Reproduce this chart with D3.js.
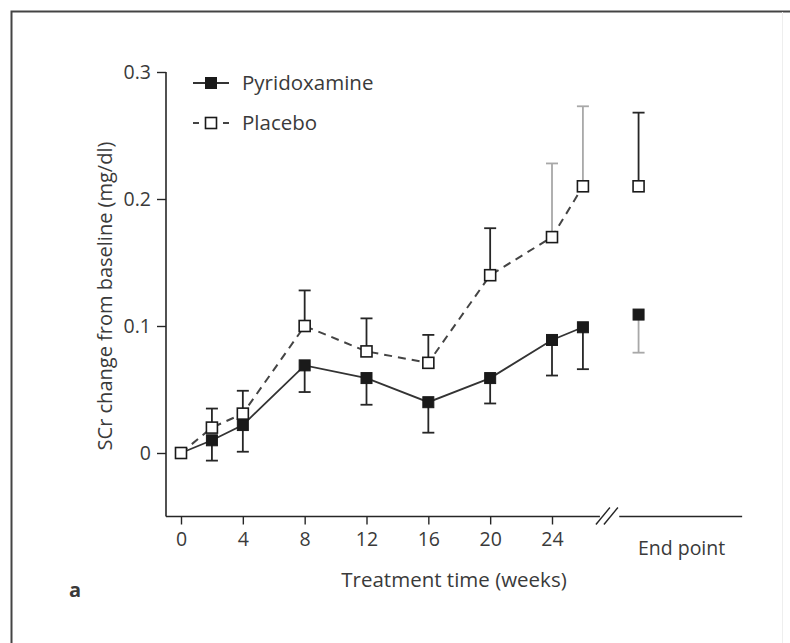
<!DOCTYPE html>
<html><head><meta charset="utf-8">
<script src="https://cdn.jsdelivr.net/npm/d3@7"></script>
<style>
body{margin:0;background:#fff;}
svg{display:block;}
text{font-family:"Open Sans","Noto Sans",sans-serif;fill:#3a3a3a;}
</style></head>
<body><div id="chart"></div>
<script>
// ---- data ----
const weeks = [0, 2, 4, 8, 12, 16, 20, 24, 26];
const xTicks = [0, 4, 8, 12, 16, 20, 24];
const yTicks = [0, 0.1, 0.2, 0.3];
const yTickLabels = ["0", "0.1", "0.2", "0.3"];
const pyridoxamine = [0, 0.01, 0.022, 0.069, 0.059, 0.04, 0.059, 0.089, 0.099];
const pyridoxamineLower = [null, -0.006, 0.001, 0.048, 0.038, 0.016, 0.039, 0.061, 0.066];
const placebo = [0, 0.02, 0.031, 0.1, 0.08, 0.071, 0.14, 0.17, 0.21];
const placeboUpper = [null, 0.035, 0.049, 0.128, 0.106, 0.093, 0.177, 0.228, 0.273];
const endPyridoxamine = 0.109, endPyridoxamineLower = 0.079;
const endPlacebo = 0.21, endPlaceboUpper = 0.268;
const seriesNames = ["Pyridoxamine", "Placebo"];
const endLabel = "End point";
const xTitle = "Treatment time (weeks)";
const yTitle = "SCr change from baseline (mg/dl)";
const panelLabel = "a";

// ---- layout ----
const W = 790, H = 643;
const endPos = 29.6; // position of end-point column, in week units
const x = d3.scaleLinear().domain([0, 24]).range([181, 552]);
const y = d3.scaleLinear().domain([-0.05, 0.3]).range([516.5, 72]);
const axisX = 166, axisY = y(-0.05);
const ink = "#262626";
const tickFont = 19.5;

const svg = d3.select("#chart").append("svg").attr("width", W).attr("height", H);

// frame
svg.append("path").attr("d", `M11.5,${H} L11.5,11.5 L${W},11.5`)
  .attr("fill", "none").attr("stroke", "#444").attr("stroke-width", 2);
svg.append("line").attr("x1", 782.5).attr("x2", 782.5).attr("y1", 12).attr("y2", H)
  .attr("stroke", "#eee").attr("stroke-width", 1);

// y axis
const yAxis = d3.axisLeft(y).tickValues(yTicks).tickSize(9).tickPadding(6)
  .tickFormat((d, i) => yTickLabels[i]);
const gy = svg.append("g").attr("transform", `translate(${axisX},0)`).call(yAxis);
gy.select(".domain").attr("d", `M0,${y(0.3)}V${axisY}`).attr("stroke", ink).attr("stroke-width", 1.6);
gy.selectAll(".tick line").attr("stroke", ink).attr("stroke-width", 1.4);
gy.selectAll(".tick text").attr("font-size", tickFont).attr("fill", "#3a3a3a").style("font-family", '"Open Sans",sans-serif');

// x axis
const xAxis = d3.axisBottom(x).tickValues(xTicks).tickSize(8).tickPadding(8);
const gx = svg.append("g").attr("transform", `translate(0,${axisY})`).call(xAxis);
gx.select(".domain").remove();
gx.selectAll(".tick line").attr("stroke", ink).attr("stroke-width", 1.4);
gx.selectAll(".tick text").attr("font-size", tickFont).attr("fill", "#3a3a3a").style("font-family", '"Open Sans",sans-serif');
const breakL = x(27.1), breakR = x(28.35);
svg.append("line").attr("x1", axisX).attr("x2", breakL).attr("y1", axisY).attr("y2", axisY)
  .attr("stroke", ink).attr("stroke-width", 1.6);
svg.append("line").attr("x1", breakR).attr("x2", x(36.3)).attr("y1", axisY).attr("y2", axisY)
  .attr("stroke", ink).attr("stroke-width", 1.6);
[0, 8].forEach(o => {
  svg.append("line").attr("x1", breakL - 4 + o).attr("y1", axisY + 8)
    .attr("x2", breakL + 10 + o).attr("y2", axisY - 9)
    .attr("stroke", ink).attr("stroke-width", 1.4);
});
svg.append("text").attr("x", x(endPos) + 43).attr("y", axisY + 38)
  .attr("text-anchor", "middle").attr("font-size", tickFont).text(endLabel);

// titles
svg.append("text").attr("x", 454).attr("y", 587).attr("text-anchor", "middle")
  .attr("font-size", 20.5).text(xTitle);
svg.append("text").attr("transform", `translate(112,296) rotate(-90)`)
  .attr("text-anchor", "middle").attr("font-size", 20).text(yTitle);
svg.append("text").attr("x", 69).attr("y", 597).attr("font-size", 20)
  .attr("font-weight", "bold").attr("fill", "#222").text(panelLabel);

// error bars
const cap = 6;
function errBar(px, v0, v1, color) {
  const g = svg.append("g").attr("stroke", color).attr("stroke-width", 1.8);
  g.append("line").attr("x1", px).attr("x2", px).attr("y1", y(v0)).attr("y2", y(v1));
  g.append("line").attr("x1", px - cap).attr("x2", px + cap).attr("y1", y(v1)).attr("y2", y(v1));
}
const grayBarsPlacebo = [24, 26];
weeks.forEach((w, i) => {
  if (placeboUpper[i] != null)
    errBar(x(w), placebo[i], placeboUpper[i], grayBarsPlacebo.includes(w) ? "#a8a8a8" : ink);
  if (pyridoxamineLower[i] != null)
    errBar(x(w), pyridoxamine[i], pyridoxamineLower[i], ink);
});
errBar(x(endPos), endPlacebo, endPlaceboUpper, ink);
errBar(x(endPos), endPyridoxamine, endPyridoxamineLower, "#a8a8a8");

// lines
const line = d3.line().x(d => x(d[0])).y(d => y(d[1]));
svg.append("path").datum(weeks.map((w, i) => [w, placebo[i]]))
  .attr("d", line).attr("fill", "none").attr("stroke", "#444")
  .attr("stroke-width", 2).attr("stroke-dasharray", "8,6");
svg.append("path").datum(weeks.map((w, i) => [w, pyridoxamine[i]]))
  .attr("d", line).attr("fill", "none").attr("stroke", "#333").attr("stroke-width", 1.8);

// markers
const s = 11;
function marker(px, py, filled) {
  svg.append("rect").attr("x", px - s / 2).attr("y", py - s / 2).attr("width", s).attr("height", s)
    .attr("fill", filled ? "#1a1a1a" : "#fff").attr("stroke", "#1a1a1a").attr("stroke-width", filled ? 1 : 1.6);
}
weeks.forEach((w, i) => marker(x(w), y(placebo[i]), false));
weeks.forEach((w, i) => { if (i > 0) marker(x(w), y(pyridoxamine[i]), true); });
marker(x(endPos), y(endPlacebo), false);
marker(x(endPos), y(endPyridoxamine), true);

// legend
const lg = svg.append("g");
[[83, true], [123, false]].forEach(([ly, filled], k) => {
  if (filled) {
    lg.append("line").attr("x1", 193).attr("x2", 229).attr("y1", ly).attr("y2", ly)
      .attr("stroke", "#333").attr("stroke-width", 1.8);
  } else {
    lg.append("line").attr("x1", 193).attr("x2", 229).attr("y1", ly).attr("y2", ly)
      .attr("stroke", "#444").attr("stroke-width", 2).attr("stroke-dasharray", "6,24");
  }
  lg.append("rect").attr("x", 211 - s / 2).attr("y", ly - s / 2).attr("width", s).attr("height", s)
    .attr("fill", filled ? "#1a1a1a" : "#fff").attr("stroke", "#1a1a1a").attr("stroke-width", filled ? 1 : 1.6);
  lg.append("text").attr("x", 242).attr("y", ly + 7).attr("font-size", 20.5).text(seriesNames[k]);
});
</script></body></html>
